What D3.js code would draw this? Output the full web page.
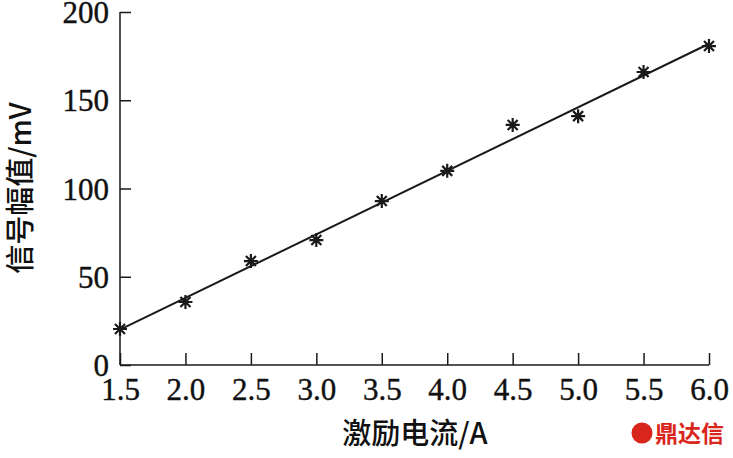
<!DOCTYPE html>
<html>
<head>
<meta charset="utf-8">
<script src="https://cdn.jsdelivr.net/npm/d3@7"></script>
<style>
  body { margin: 0; background: #fff; }
  svg { display: block; }
</style>
</head>
<body>
<svg id="chart"></svg>
<script>
const width = 733;
const height = 458;

// data
const current = [1.5, 2.0, 2.5, 3.0, 3.5, 4.0, 4.5, 5.0, 5.5, 6.0];
const amplitude = [20.4, 35.7, 58.9, 70.8, 92.9, 110, 136, 141, 166, 180.7];
const fitX = [1.5, 6.0];
const fitY = [20, 182];
const xTicks = [1.5, 2.0, 2.5, 3.0, 3.5, 4.0, 4.5, 5.0, 5.5, 6.0];
const yTicks = [0, 50, 100, 150, 200];

const svg = d3.select("#chart")
    .attr("width", width)
    .attr("height", height);

const x = d3.scaleLinear().domain([1.5, 6.0]).range([120, 709]);
const y = d3.scaleLinear().domain([0, 200]).range([365, 12]);

const serif = "'Liberation Serif', 'DejaVu Serif', serif";
const cjk = "'Noto Sans CJK SC', 'Liberation Serif', serif";

// x axis
const xAxis = svg.append("g")
    .attr("transform", `translate(0,${y(0)})`)
    .call(d3.axisBottom(x).tickValues(xTicks).tickSize(-12).tickPadding(13)
        .tickFormat(d3.format(".1f")));
xAxis.select(".domain").attr("d", `M${x(1.5)},0H${x(6.0)}`);

// y axis
const yAxis = svg.append("g")
    .attr("transform", `translate(${x(1.5)},0)`)
    .call(d3.axisLeft(y).tickValues(yTicks).tickSize(-11).tickPadding(11));
yAxis.select(".domain").attr("d", `M0,${y(200)}V${y(0)}`);

svg.selectAll(".domain, .tick line")
    .attr("stroke", "#1a1a1a")
    .attr("stroke-width", 1.5);
svg.selectAll(".tick text")
    .attr("fill", "#111")
    .attr("stroke", "#111")
    .attr("stroke-width", 0.4)
    .style("font-family", serif)
    .style("font-size", "31px");
xAxis.selectAll(".tick text").attr("dy", "0.71em");
yAxis.selectAll(".tick text").attr("dy", "0.34em");

// fitted line
svg.append("path")
    .datum(d3.zip(fitX, fitY))
    .attr("fill", "none")
    .attr("stroke", "#1a1a1a")
    .attr("stroke-width", 2)
    .attr("d", d3.line().x(d => x(d[0])).y(d => y(d[1])));

// asterisk markers
const star = "M0,-7V7M-7,0H7M-5,-5L5,5M-5,5L5,-5";
svg.append("g")
    .selectAll("path")
    .data(d3.zip(current, amplitude))
    .join("path")
    .attr("transform", d => `translate(${x(d[0])},${y(d[1])})`)
    .attr("d", star)
    .attr("stroke", "#1a1a1a")
    .attr("stroke-width", 2.2)
    .attr("fill", "none");

// axis titles
svg.append("text")
    .attr("x", 415)
    .attr("y", 444)
    .attr("text-anchor", "middle")
    .attr("fill", "#111")
    .style("font-family", cjk)
    .style("font-weight", 500)
    .style("font-size", "29px")
    .text("激励电流/A");

svg.append("text")
    .attr("transform", "translate(31,188) rotate(-90)")
    .attr("text-anchor", "middle")
    .attr("fill", "#111")
    .style("font-family", cjk)
    .style("font-weight", 500)
    .style("font-size", "29px")
    .text("信号幅值/mV");

// watermark
const mark = svg.append("g").attr("fill", "#d9261c");
mark.append("circle").attr("cx", 642).attr("cy", 433).attr("r", 10.5);
mark.append("text")
    .attr("x", 655)
    .attr("y", 442)
    .style("font-family", "'Noto Sans CJK SC', sans-serif")
    .style("font-weight", "bold")
    .style("font-size", "23px")
    .text("鼎达信");
</script>
</body>
</html>
